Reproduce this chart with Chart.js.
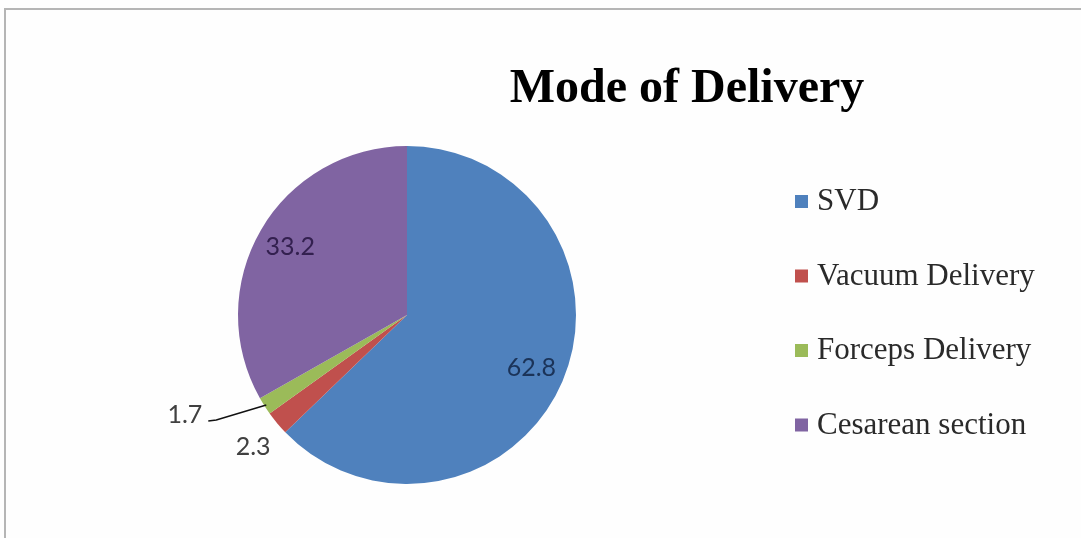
<!DOCTYPE html>
<html>
<head>
<meta charset="utf-8">
<script src="https://cdn.jsdelivr.net/npm/chart.js@4"></script>
<style>
  html, body { margin: 0; padding: 0; background: #fff; }
  #wrap { width: 1081px; height: 538px; position: relative; }
</style>
</head>
<body>
<div id="wrap"><canvas id="chart" width="1081" height="538"></canvas></div>
<script>
// data
var categories = ['SVD', 'Vacuum Delivery', 'Forceps Delivery', 'Cesarean section'];
var values = [62.8, 2.3, 1.7, 33.2];
var colors = ['#4F81BD', '#C0504D', '#9BBB59', '#8064A2'];
var chartTitle = 'Mode of Delivery';

// how each value label is placed: inside, outside, or outside with a leader line
var labelMode = ['in', 'out', 'leader', 'in'];
var labelColor = ['#1b3358', '#404040', '#404040', '#33204f'];

var framePlugin = {
  id: 'frame',
  beforeDraw: function (chart) {
    var ctx = chart.ctx;
    ctx.save();
    ctx.fillStyle = '#fefefe';
    ctx.fillRect(0, 0, chart.width, chart.height);
    ctx.strokeStyle = '#b5b5b5';
    ctx.lineWidth = 2;
    ctx.beginPath();
    ctx.moveTo(5, chart.height);
    ctx.lineTo(5, 9);
    ctx.lineTo(chart.width, 9);
    ctx.stroke();
    ctx.restore();
  },
  afterDraw: function (chart) {
    var ctx = chart.ctx;
    ctx.save();
    // title
    ctx.fillStyle = '#000';
    ctx.font = 'bold 48px "Liberation Serif", "Times New Roman", serif';
    ctx.textAlign = 'center';
    ctx.textBaseline = 'alphabetic';
    ctx.fillText(chartTitle, 687, 102);

    // legend
    ctx.font = '31px "Liberation Serif", "Times New Roman", serif';
    ctx.textAlign = 'left';
    ctx.textBaseline = 'middle';
    var ds = chart.data.datasets[0];
    chart.data.labels.forEach(function (lab, i) {
      var y = 201 + i * 74.5;
      ctx.fillStyle = ds.backgroundColor[i];
      ctx.fillRect(795, y - 6, 13, 13);
      ctx.fillStyle = '#2a2a2a';
      ctx.fillText(lab, 817, y + 1);
    });

    // value labels
    var meta = chart.getDatasetMeta(0);
    ctx.font = '25px Lato, "Open Sans", sans-serif';
    meta.data.forEach(function (arc, i) {
      var p = arc.getProps(['x', 'y', 'startAngle', 'endAngle', 'outerRadius'], true);
      var mid = (p.startAngle + p.endAngle) / 2;
      var txt = String(ds.data[i]);
      ctx.fillStyle = labelColor[i];
      if (labelMode[i] === 'in') {
        var r = p.outerRadius * 0.8;
        ctx.textAlign = 'center';
        ctx.fillText(txt, p.x + Math.cos(mid) * r, p.y + Math.sin(mid) * r);
      } else if (labelMode[i] === 'out') {
        var r2 = p.outerRadius * 1.2;
        ctx.textAlign = 'center';
        ctx.fillText(txt, p.x + Math.cos(mid) * r2 + 2, p.y + Math.sin(mid) * r2 + 2);
      } else {
        var ex = p.x + Math.cos(mid) * (p.outerRadius - 2);
        var ey = p.y + Math.sin(mid) * (p.outerRadius - 2);
        ctx.strokeStyle = '#111';
        ctx.lineWidth = 1.5;
        ctx.beginPath();
        ctx.moveTo(ex, ey);
        ctx.lineTo(ex - 50, ey + 15);
        ctx.lineTo(ex - 58, ey + 16);
        ctx.stroke();
        ctx.textAlign = 'right';
        ctx.fillText(txt, ex - 64, ey + 10);
      }
    });
    ctx.restore();
  }
};

new Chart(document.getElementById('chart'), {
  type: 'pie',
  data: {
    labels: categories,
    datasets: [{
      data: values,
      backgroundColor: colors,
      borderWidth: 0
    }]
  },
  options: {
    responsive: false,
    animation: false,
    layout: { padding: { left: 238, top: 146, right: 505, bottom: 54 } },
    plugins: {
      legend: { display: false },
      title: { display: false },
      tooltip: { enabled: false }
    }
  },
  plugins: [framePlugin]
});
</script>
</body>
</html>
